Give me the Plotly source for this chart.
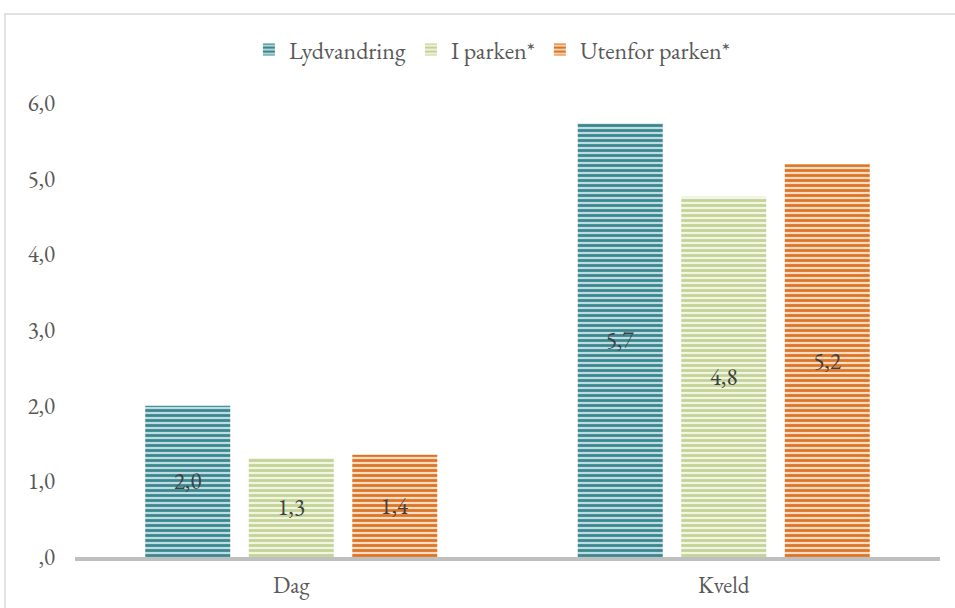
import plotly.graph_objects as go

# Categories and series values
categories = ["Dag", "Kveld"]
series_names = ["Lydvandring", "I parken*", "Utenfor parken*"]
lydvandring = [2.0, 5.73]
i_parken = [1.31, 4.76]
utenfor_parken = [1.35, 5.19]

y_tick_vals = [0, 1, 2, 3, 4, 5, 6]
y_tick_text = [",0", "1,0", "2,0", "3,0", "4,0", "5,0", "6,0"]

fg_colors = ["#3A868F", "#C3D296", "#DD7425"]
bg_colors = ["#BFDDE0", "#F1F5E2", "#FADCC2"]

FONT = "Garamond, 'EB Garamond', 'Liberation Serif', 'DejaVu Serif', serif"
FS = 23

fig = go.Figure()
for name, vals, fg, bg in zip(series_names, [lydvandring, i_parken, utenfor_parken], fg_colors, bg_colors):
    fig.add_trace(go.Bar(
        name=name,
        x=categories,
        y=vals,
        marker=dict(
            color=fg,
            line=dict(width=0),
            pattern=dict(shape="-", size=5, solidity=0.55, fgcolor=fg, bgcolor=bg, fillmode="replace"),
        ),
        texttemplate="%{y:.1f}",
        textposition="inside",
        insidetextanchor="middle",
        textangle=0,
        textfont=dict(family=FONT, size=FS, color="#404040"),
        hoverinfo="skip",
    ))

L, R, T, B = 75, 15, 103, 51
W, H = 955, 608
pw, ph = W - L - R, H - T - B

fig.update_layout(
    width=W,
    height=H,
    margin=dict(l=L, r=R, t=T, b=B, autoexpand=False),
    paper_bgcolor="white",
    plot_bgcolor="white",
    barmode="group",
    bargap=0.282,
    bargroupgap=0.179,
    separators=", ",
    font=dict(family=FONT, size=FS, color="#595959"),
    legend=dict(
        orientation="h",
        x=0.482,
        xanchor="center",
        y=(H - B - 50) / ph,
        yanchor="middle",
        font=dict(family=FONT, size=24, color="#595959"),
        itemwidth=30,
        tracegroupgap=0,
    ),
    xaxis=dict(
        showline=True,
        linecolor="#BFBFBF",
        linewidth=4,
        ticks="",
        showgrid=False,
        automargin=False,
        tickfont=dict(family=FONT, size=FS, color="#595959"),
        ticklabelstandoff=4,
    ),
    yaxis=dict(
        range=[0, 6],
        tickvals=y_tick_vals,
        ticktext=y_tick_text,
        showgrid=False,
        showline=False,
        zeroline=False,
        ticks="",
        automargin=False,
        ticklabelstandoff=19,
        tickfont=dict(family=FONT, size=FS, color="#595959"),
    ),
    shapes=[
        dict(
            type="rect",
            xref="paper",
            yref="paper",
            x0=(5 - L) / pw,
            x1=(W + 20 - L) / pw,
            y0=-(B + 20) / ph,
            y1=(H - B - 14) / ph,
            line=dict(color="#D9D9D9", width=1.5),
            fillcolor="rgba(0,0,0,0)",
            layer="below",
        )
    ],
)

fig.write_html("out.html")
